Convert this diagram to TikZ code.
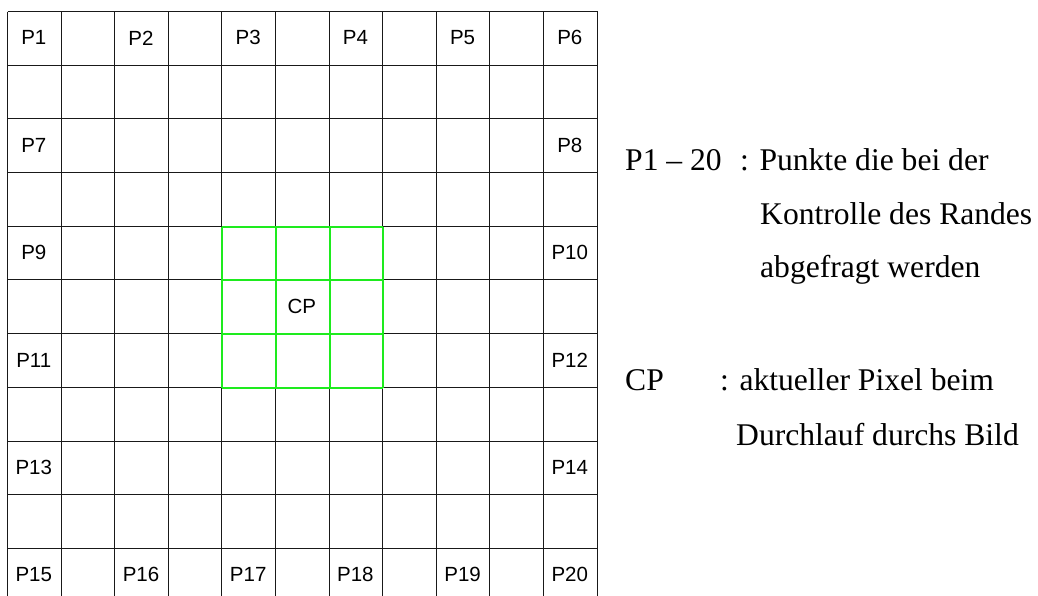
\documentclass[tikz,border=0pt]{standalone}
\usepackage{fontspec}
\setmainfont{Liberation Serif}
\newfontfamily\cellfont{Liberation Sans}
\usepackage{xcolor}

\definecolor{cpgreen}{RGB}{30,235,30}

\tikzset{
  gridline/.style={draw=black!90, line width=1.1pt},
  cpline/.style={draw=cpgreen, line width=2pt},
  cell/.style={font=\cellfont\fontsize{20.5}{24}\selectfont, inner sep=0pt},
  legend/.style={font=\fontsize{31.6}{36}\selectfont, inner sep=0pt, anchor=base west},
}

% column and row lines, kept on whole units so every line comes out equally thick
\newcommand\colx[1]{round(7+#1*53.6)+0.5}
\newcommand\rowy[1]{round(11+#1*53.7)+0.5}

\begin{document}
\begin{tikzpicture}[x=1pt,y=1pt,yscale=-1]
\useasboundingbox (0,0) rectangle (1038,595);

% 11 x 11 cells, last row runs off the bottom
\begin{scope}
\clip (0,0) rectangle (1038,595);
\foreach \i in {0,...,11}
  \draw[gridline] ({\colx{\i}},{\rowy{0}}) -- ({\colx{\i}},606);
\foreach \j in {0,...,10}
  \draw[gridline] ({\colx{0}},{\rowy{\j}}) -- ({\colx{11}},{\rowy{\j}});
\end{scope}

% 3 x 3 neighbourhood round the current pixel, one path
\draw[cpline] foreach \k in {4,...,7} {
    ({\colx{\k}},{\rowy{4}}) -- ({\colx{\k}},{\rowy{7}})
    ({\colx{4}},{\rowy{\k}}) -- ({\colx{7}},{\rowy{\k}})
  };

% Cell labels
\foreach \c/\r/\t in {0/0/P1, 2/0/P2, 4/0/P3, 6/0/P4, 8/0/P5, 10/0/P6,
    0/2/P7, 10/2/P8, 0/4/P9, 10/4/P10, 0/6/P11, 10/6/P12, 0/8/P13, 10/8/P14,
    0/10/P15, 2/10/P16, 4/10/P17, 6/10/P18, 8/10/P19, 10/10/P20}
  \node[cell] (\t) at ({7+(\c+0.5)*53.6},{11+(\r+0.5)*53.7}) {\t};
\node[cell] (CP) at ({7+5.5*53.6},{11+5.5*53.7}) {CP};

% Legend
\node[legend] (keyP) at (625,170) {P1 -- 20};
\node[legend] (descP) at (740,170) {: Punkte die bei der};
\node[legend] (descPb) at (760,224) {Kontrolle des Randes};
\node[legend] (descPc) at (760,277) {abgefragt werden};
\node[legend] (keyCP) at (625,390) {CP};
\node[legend] (descCP) at (720,390) {: aktueller Pixel beim};
\node[legend] (descCPb) at (736,445) {Durchlauf durchs Bild};

\end{tikzpicture}
\end{document}
